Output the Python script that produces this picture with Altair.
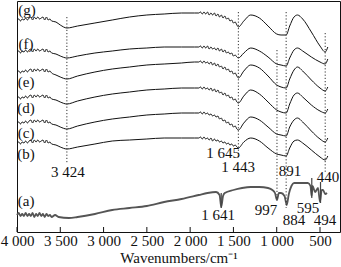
import altair as alt
import pandas as pd

# Shared wavenumber grid for spectra (b)-(g)
WN = [4000, 3980, 3960, 3940, 3920, 3900, 3880, 3860, 3840, 3820, 3800, 3780, 3760, 3740,
      3720, 3700, 3680, 3660, 3640, 3620, 3600,
      3550, 3500, 3424, 3300, 3100, 2900, 2700, 2500, 2300, 2100, 1950,
      1900, 1880, 1860, 1840, 1820, 1800, 1780, 1760, 1740, 1720, 1700, 1680, 1660, 1640,
      1620, 1600, 1580, 1560, 1540, 1520, 1500, 1480, 1460,
      1443, 1380, 1300, 1200, 1100, 1000, 950, 891, 850, 800, 760, 700, 600, 500, 440, 410]

# Offset transmittance (depth from top of frame)
G = [20, 19, 21, 19, 20, 18, 20, 18, 17, 20, 17, 19, 17, 19, 18, 17, 20, 17, 20, 19, 21,
     22, 25, 28, 26, 23, 20, 17, 15, 14, 13, 13,
     13, 12, 14, 12, 14, 12, 15, 13, 15, 13, 16, 14, 17, 15, 18, 16, 19, 18, 21, 20, 23, 22, 25,
     27, 21, 15, 18, 26, 34, 35, 35, 26, 17, 15, 19, 32, 46, 52, 47]
F = [52, 51, 53, 51, 52, 50, 52, 50, 49, 52, 49, 51, 49, 51, 50, 49, 52, 49, 52, 51, 53,
     54, 56, 58, 56, 53, 51, 49, 48, 47, 47, 47,
     47, 46, 48, 46, 48, 46, 49, 47, 49, 48, 50, 48, 51, 49, 52, 50, 53, 52, 54, 53, 56, 55, 57,
     58, 53, 48, 51, 57, 64, 65, 66, 58, 50, 48, 51, 57, 62, 64, 59]
E = [72, 71, 73, 71, 72, 70, 72, 70, 69, 72, 69, 71, 69, 71, 70, 69, 72, 69, 72, 71, 73,
     75, 77, 79, 76, 72, 69, 67, 65, 64, 63, 62,
     62, 61, 63, 61, 63, 62, 64, 62, 65, 63, 66, 64, 67, 66, 69, 67, 70, 69, 72, 71, 74, 73, 76,
     78, 71, 65, 68, 76, 85, 87, 88, 79, 70, 67, 71, 80, 88, 91, 87]
D = [98, 97, 99, 97, 98, 96, 98, 96, 95, 98, 95, 97, 95, 97, 96, 95, 98, 95, 98, 97, 99,
     100, 102, 104, 101, 97, 94, 92, 90, 89, 88, 88,
     88, 87, 89, 87, 89, 88, 90, 88, 91, 89, 92, 90, 93, 92, 95, 93, 96, 95, 98, 97, 100, 99, 102,
     103, 96, 90, 94, 102, 110, 112, 113, 104, 95, 93, 97, 105, 111, 113, 109]
C = [123, 122, 124, 122, 123, 121, 123, 121, 120, 123, 120, 122, 120, 122, 121, 120, 123, 120,
     123, 122, 124,
     125, 127, 129, 126, 122, 119, 117, 115, 114, 113, 113,
     113, 112, 114, 112, 114, 113, 115, 114, 116, 115, 117, 116, 119, 118, 121, 120, 123, 122,
     125, 124, 127, 126, 129,
     130, 123, 117, 120, 127, 134, 135, 136, 127, 120, 118, 122, 131, 139, 142, 138]
B = [143, 142, 144, 142, 143, 141, 143, 141, 140, 143, 140, 142, 140, 142, 141, 140, 143, 140,
     143, 142, 144,
     145, 147, 149, 147, 144, 141, 140, 139, 138, 138, 138,
     138, 137, 139, 137, 139, 138, 140, 138, 141, 139, 141, 140, 142, 141, 143, 142, 144, 143,
     145, 144, 146, 145, 147,
     148, 142, 138, 141, 148, 154, 155, 156, 148, 141, 140, 143, 150, 157, 160, 156]

# Spectrum (a)
WN_A = [4000, 3980, 3960, 3940, 3920, 3900, 3880, 3860, 3840, 3820, 3800, 3780, 3760, 3740,
        3720, 3700, 3680, 3660, 3640, 3620, 3600, 3560, 3520, 3400,
        3300, 3100, 2900, 2700, 2500, 2300, 2100, 1900, 1800, 1700, 1660, 1641, 1620, 1600,
        1500, 1400, 1300, 1200, 1100, 1050, 1020, 997, 975, 950, 910, 884, 860, 830, 800, 750,
        700, 640, 610, 597, 585, 557, 523, 500, 480, 465, 440, 419]
A = [215, 213, 216, 214, 216, 213, 216, 214, 216, 213, 217, 214, 216, 213, 216, 214, 217, 214,
     216, 215, 217, 215, 217, 218,
     217, 214, 210, 208, 206, 202, 199, 195, 193, 192, 195, 207, 196, 193,
     190, 188, 187, 187, 188, 190, 193, 200, 193, 193, 196, 205, 194, 186, 183, 183,
     183, 183, 186, 196, 186, 192, 188, 202, 190, 190, 194, 193]

TICKS = [4000, 3500, 3000, 2500, 2000, 1500, 1000, 500]

SERIES_TXT = ["(g)", "(f)", "(e)", "(d)", "(c)", "(b)", "(a)"]
SERIES_WN = [3885, 3895, 3895, 3895, 3895, 3895, 3895]
SERIES_Y = [10, 44, 82, 108, 133, 154, 201]

PEAK_TXT = ["3 424", "1 645", "1 443", "891", "440", "1 641", "997", "884", "595", "494"]
PEAK_WN = [3411, 1620, 1447, 846, 408, 1678, 1124, 800, 639, 442]
PEAK_Y = [172, 153, 167, 171, 177, 215, 210, 220, 208, 220]

DOT_WN = [3424, 1443, 997, 891, 440]
DOT_Y1 = [17, 12, 50, 12, 33]
DOT_Y2 = [163, 158, 200, 208, 172]

MARK_WN = [1641, 595, 494]
MARK_Y1 = [193, 178, 182]
MARK_Y2 = [208, 198, 203]

FONT = "Liberation Serif"

rows = []
for name, vals in zip(["g", "f", "e", "d", "c", "b"], [G, F, E, D, C, B]):
    assert len(vals) == len(WN), name
    for w, v in zip(WN, vals):
        rows.append({"wn": w, "t": v, "series": name})
df = pd.DataFrame(rows)
df_a = pd.DataFrame({"wn": WN_A, "t": A})

xscale = alt.Scale(domain=[269, 4000], reverse=True, nice=False, zero=False)
yscale = alt.Scale(domain=[1, 232], reverse=True, nice=False, zero=False)

xaxis = alt.Axis(values=TICKS, labelExpr="replace(format(datum.value, ','), ',', ' ')",
                 title="Wavenumbers/cm\u207b\u00b9", grid=False, domain=False, ticks=False,
                 labelPadding=1, titlePadding=2, labelFont=FONT, labelFontSize=15,
                 labelColor="#111", titleFont=FONT, titleFontSize=15, titleFontWeight="normal",
                 titleColor="#111", labelFlush=False)

X = alt.X("wn:Q", scale=xscale, axis=xaxis)

spectra = alt.Chart(df).mark_line(interpolate="monotone", color="#111", strokeWidth=1).encode(
    x=X,
    y=alt.Y("t:Q", scale=yscale, axis=None),
    detail="series:N",
)

spec_a = alt.Chart(df_a).mark_line(interpolate="monotone", color="#555", strokeWidth=1.8).encode(
    x=X,
    y=alt.Y("t:Q", scale=yscale, axis=None),
)

dots = alt.Chart(pd.DataFrame({"wn": DOT_WN, "y1": DOT_Y1, "y2": DOT_Y2})).mark_rule(
    color="#333", strokeWidth=1, strokeDash=[1.2, 2]).encode(
    x=X,
    y=alt.Y("y1:Q", scale=yscale, axis=None),
    y2="y2:Q",
)

marks = alt.Chart(pd.DataFrame({"wn": MARK_WN, "y1": MARK_Y1, "y2": MARK_Y2})).mark_rule(
    color="#444", strokeWidth=1.2).encode(
    x=X,
    y=alt.Y("y1:Q", scale=yscale, axis=None),
    y2="y2:Q",
)

ticks = alt.Chart(pd.DataFrame({"wn": TICKS})).mark_rule(color="#111", strokeWidth=1).encode(
    x=X,
    y=alt.value(231),
    y2=alt.value(226),
)

series_lbl = alt.Chart(pd.DataFrame({"wn": SERIES_WN, "y": SERIES_Y, "txt": SERIES_TXT})).mark_text(
    font=FONT, fontSize=15, color="#111", align="center", baseline="middle").encode(
    x=X,
    y=alt.Y("y:Q", scale=yscale, axis=None),
    text="txt:N",
)

peak_lbl = alt.Chart(pd.DataFrame({"wn": PEAK_WN, "y": PEAK_Y, "txt": PEAK_TXT})).mark_text(
    font=FONT, fontSize=15, color="#111", align="center", baseline="middle").encode(
    x=X,
    y=alt.Y("y:Q", scale=yscale, axis=None),
    text="txt:N",
)

chart = alt.layer(spectra, spec_a, dots, marks, ticks, series_lbl, peak_lbl).properties(
    width=323, height=231,
    autosize=alt.AutoSizeParams(type="none"),
    padding={"left": 17, "top": 1, "right": 1, "bottom": 35},
    background="white",
).configure_view(stroke="#111", strokeWidth=1)

chart.save("out.html", embed_options={"renderer": "svg", "actions": False})
